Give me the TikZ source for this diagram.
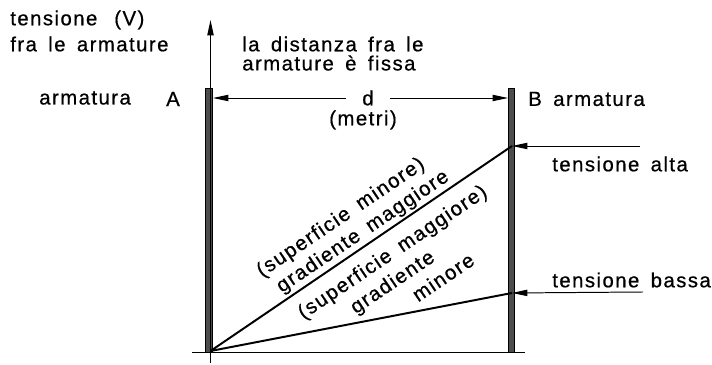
\documentclass[tikz,border=0pt]{standalone}
\usepackage{fontspec}
\setmainfont{Liberation Sans}[LetterSpace=7, WordSpace=1.6, FakeBold=0.6]
\usetikzlibrary{arrows.meta}

\begin{document}
\begin{tikzpicture}[x=0.025cm, y=-0.025cm,
  lbl/.style={font=\fontsize{14.5}{16}\selectfont, inner sep=0pt},
  plate/.style={fill=black!70, draw=black, line width=0.4pt},
  pointer/.style={-{Triangle[length=11pt,width=4.5pt]}, line width=0.7pt},
  gradient/.style={line width=1.4pt}]
\useasboundingbox (0,0) rectangle (712,365);
% assi
\coordinate (O) at (210.5,351);
\coordinate (Ytop) at (210.5,20);
\coordinate (Ybot) at (210.5,363);
\coordinate (Xl) at (192,352);
\coordinate (Xr) at (525,352);
\draw[line width=0.6pt] (Xl) -- (Xr);
% armature
\draw[plate] (205,88) rectangle (212,352);
\draw[plate] (508,88) rectangle (514,352);
\draw[pointer, line width=0.8pt] (Ybot) -- (Ytop);
% testi
\node[lbl, anchor=west] (ylab1) at (10,20) {tensione\hspace{4pt} (V)};
\node[lbl, anchor=west] (ylab2) at (10,44) {fra le armature};
\node[lbl, anchor=west] (fix1) at (242,44) {la distanza fra le};
\node[lbl, anchor=west] (fix2) at (242,63) {armature è fissa};
\node[lbl, anchor=west] (armA) at (39,98) {armatura};
\node[lbl] (A) at (173,99) {A};
\node[lbl, anchor=west] (armB) at (528,99) {B armatura};
% distanza d
\coordinate (Ad) at (213,98);
\coordinate (Bd) at (508,98);
\node[lbl, inner xsep=0.4cm] (d) at (368,98) {d};
\node[lbl] (metri) at (363,120) {(metri)};
\draw[pointer] (d) -- (Ad);
\draw[pointer] (d) -- (Bd);
% gradienti
\coordinate (Bhi) at (512,146);
\coordinate (Blo) at (512,293);
\draw[gradient] (O) -- (Bhi);
\draw[gradient] (O) -- (Blo);
\node[lbl, rotate=34] (supmin) at (341,218) {(superficie minore)};
\node[lbl, rotate=34] (gradmag) at (363,232) {gradiente maggiore};
\node[lbl, rotate=34] (supmag) at (393,253) {(superficie maggiore)};
\node[lbl, rotate=34] (grad) at (393,283) {gradiente};
\node[lbl, rotate=34] (min) at (443,277) {minore};
% tensioni
\coordinate (hiT) at (640,146);
\coordinate (loT) at (643,292);
\draw[pointer] (hiT) -- (Bhi);
\draw[pointer] (loT) -- (Blo);
\node[lbl, anchor=west] (alta) at (552,164) {tensione alta};
\node[lbl, anchor=west] (bassa) at (552,280) {tensione bassa};
\end{tikzpicture}
\end{document}
